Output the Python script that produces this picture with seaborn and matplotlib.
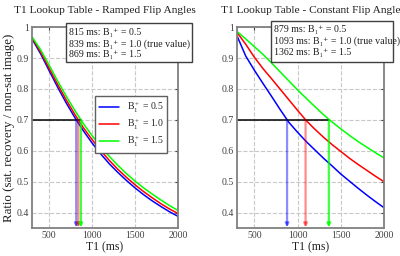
import pandas as pd
import numpy as np
import seaborn as sns
import matplotlib
matplotlib.use("Agg")
import matplotlib.pyplot as plt
from matplotlib.patches import Rectangle

# T1 grid (ms)
t1 = [300, 400, 500, 600, 700, 800, 900, 1000, 1100, 1200, 1300, 1400,
      1500, 1600, 1700, 1800, 1900, 2000]

# ramped flip angles
ramp_b05 = [0.962, 0.914, 0.859, 0.805, 0.754, 0.707, 0.664, 0.625, 0.590, 0.558,
            0.530, 0.504, 0.480, 0.458, 0.438, 0.420, 0.403, 0.388]
ramp_b10 = [0.966, 0.920, 0.867, 0.814, 0.764, 0.717, 0.674, 0.636, 0.601, 0.569,
            0.540, 0.514, 0.490, 0.468, 0.448, 0.429, 0.412, 0.397]
ramp_b15 = [0.969, 0.927, 0.877, 0.825, 0.776, 0.730, 0.687, 0.649, 0.614, 0.582,
            0.553, 0.526, 0.502, 0.480, 0.460, 0.441, 0.423, 0.407]

# constant flip angle
const_b05 = [0.972, 0.907, 0.861, 0.818, 0.776, 0.733, 0.692, 0.660, 0.630, 0.603,
             0.576, 0.551, 0.525, 0.502, 0.479, 0.457, 0.436, 0.416]
const_b10 = [0.983, 0.945, 0.903, 0.866, 0.833, 0.799, 0.765, 0.731, 0.698, 0.670,
             0.644, 0.620, 0.598, 0.576, 0.556, 0.537, 0.518, 0.500]
const_b15 = [0.986, 0.962, 0.937, 0.912, 0.884, 0.855, 0.826, 0.797, 0.770, 0.743,
             0.717, 0.693, 0.671, 0.650, 0.630, 0.612, 0.594, 0.577]

b1_labels = ["B$_1^+$ = 0.5", "B$_1^+$ = 1.0", "B$_1^+$ = 1.5"]
colors = ["#0000ff", "#ff0000", "#00ff00"]
ramp_t1 = [815, 839, 869]
const_t1 = [879, 1093, 1362]
ratio_level = 0.7
ramp_notes = ["815 ms: B\u2081\u207a = 0.5", "839 ms: B\u2081\u207a = 1.0 (true value)",
              "869 ms: B\u2081\u207a = 1.5"]
const_notes = ["879 ms: B\u2081\u207a = 0.5", "1093 ms: B\u2081\u207a = 1.0 (true value)",
               "1362 ms: B\u2081\u207a = 1.5"]

sns.set_style("whitegrid", {"grid.linestyle": "--", "grid.color": "#c8c8c8",
                            "axes.edgecolor": "#808080"})
plt.rcParams['font.family'] = ['Liberation Serif', 'DejaVu Serif']
plt.rcParams['mathtext.fontset'] = 'custom'
plt.rcParams['mathtext.rm'] = 'Liberation Serif'
plt.rcParams['mathtext.it'] = 'Liberation Serif:italic'

fig = plt.figure(figsize=(4, 2.56), dpi=100)
ax1 = fig.add_axes([0.08, 0.109, 0.365, 0.785])
ax2 = fig.add_axes([0.5925, 0.109, 0.3675, 0.785])


def make_df(series):
    rows = []
    for lab, vals in zip(b1_labels, series):
        for t, v in zip(t1, vals):
            rows.append({"T1": t, "ratio": v, "B1": lab})
    return pd.DataFrame(rows)


def draw(ax, series, found, title):
    df = make_df(series)
    sns.lineplot(data=df, x="T1", y="ratio", hue="B1", palette=colors,
                 linewidth=1.1, ax=ax, legend=False)
    ax.plot([300, max(found)], [ratio_level, ratio_level], color="black", lw=1.1)
    for t, c in zip(found, colors):
        a = 0.45 if c != "#00ff00" else 0.75
        ax.annotate("", xy=(t, 0.352), xytext=(t, ratio_level),
                    arrowprops=dict(arrowstyle="-|>", color=c, alpha=a, lw=1.6,
                                    mutation_scale=5, shrinkA=0, shrinkB=0))
    ax.set_xlim(300, 2000)
    ax.set_ylim(0.35, 1.0)
    ax.set_xticks([500, 1000, 1500, 2000])
    ax.set_yticks([0.4, 0.5, 0.6, 0.7, 0.8, 0.9, 1.0])
    ax.set_yticklabels(["0.4", "0.5", "0.6", "0.7", "0.8", "0.9", "1"])
    ax.tick_params(labelsize=7, colors="#404040", direction="in", length=2.5,
                   right=True, top=True, pad=2)
    for s in ax.spines.values():
        s.set_linewidth(1.3)
    ax.set_title(title, fontsize=8.2, color="#202020", pad=10)
    ax.set_xlabel("T1 (ms)", fontsize=8.5, color="#202020", labelpad=1)
    ax.set_ylabel("")


def note_box(x0, x1, y0, y1, tx, ys, lines):
    fig.add_artist(Rectangle((x0, y0), x1 - x0, y1 - y0, transform=fig.transFigure,
                             facecolor="white", edgecolor="#404040", lw=1.0, zorder=5))
    for y, s in zip(ys, lines):
        fig.text(tx, y, s, fontsize=7.1, va="baseline", ha="left", color="#202020",
                 zorder=6)


draw(ax1, [ramp_b05, ramp_b10, ramp_b15], ramp_t1,
     "T1 Lookup Table - Ramped Flip Angles")
draw(ax2, [const_b05, const_b10, const_b15], const_t1,
     "T1 Lookup Table - Constant Flip Angle")
ax1.set_ylabel("Ratio (sat. recovery / non-sat image)", fontsize=9.3,
               color="#202020", labelpad=1)

handles = ax1.get_lines()[:3]
leg = ax1.legend(handles, b1_labels, loc="center right",
                 bbox_to_anchor=(0.96, 0.515), fontsize=7, fancybox=False,
                 framealpha=1, edgecolor="#606060", handlelength=2.0,
                 labelspacing=0.3, borderpad=0.4)
leg.get_frame().set_linewidth(1.0)

note_box(0.165, 0.48, 0.757, 0.909, 0.1725, [0.863, 0.8176, 0.776], ramp_notes)
note_box(0.6775, 0.9825, 0.759, 0.919, 0.685, [0.874, 0.831, 0.785], const_notes)

fig.savefig("out.png", dpi=100)
